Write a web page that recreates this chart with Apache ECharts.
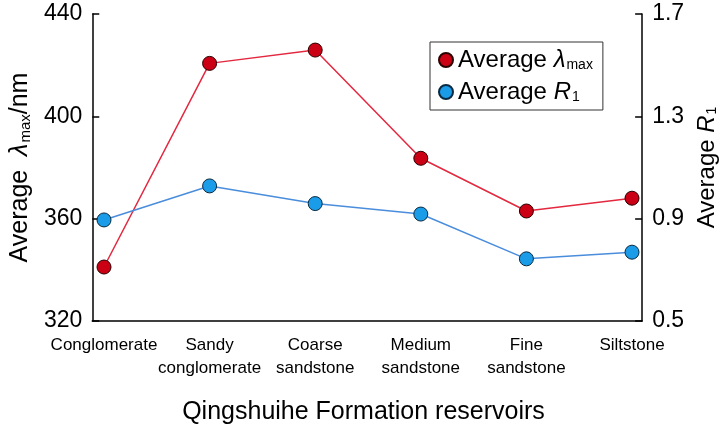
<!DOCTYPE html>
<html>
<head>
<meta charset="utf-8">
<script src="https://cdn.jsdelivr.net/npm/echarts@6/dist/echarts.min.js"></script>
<style>
html,body{margin:0;padding:0;background:#fff;}
#chart{width:727px;height:425px;}
</style>
</head>
<body>
<div id="chart"></div>
<script>
var categories = ['Conglomerate', 'Sandy\nconglomerate', 'Coarse\nsandstone', 'Medium\nsandstone', 'Fine\nsandstone', 'Siltstone'];
var lambdaMax = [341.1, 420.7, 425.9, 383.6, 363.0, 368.0];
var r1 = [0.895, 1.028, 0.959, 0.918, 0.743, 0.769];
var leftTicks = [320, 360, 400, 440];
var rightTicks = [0.5, 0.9, 1.3, 1.7];

var FONT = "'Liberation Sans', Arial, sans-serif";

var richSub = {
  i: {fontStyle: 'italic', fontSize: 24, fontFamily: FONT, color: '#000'},
  s: {fontSize: 14, fontFamily: FONT, color: '#000', verticalAlign: 'bottom', padding: [10, 0, 0, 1]},
  n: {fontSize: 24, fontFamily: FONT, color: '#000'}
};
var richAxis = {
  i: {fontStyle: 'italic', fontSize: 25, fontFamily: FONT, color: '#000'},
  s: {fontSize: 15, fontFamily: FONT, color: '#000', verticalAlign: 'bottom', padding: [10, 0, 0, 1]},
  n: {fontSize: 25, fontFamily: FONT, color: '#000'}
};

var chart = echarts.init(document.getElementById('chart'), null, {renderer: 'canvas'});
chart.setOption({
  animation: false,
  backgroundColor: '#fff',
  title: {
    text: 'Qingshuihe Formation reservoirs',
    left: 'center',
    top: 395,
    textStyle: {fontSize: 25, fontWeight: 'normal', color: '#000', fontFamily: FONT}
  },
  legend: {
    orient: 'vertical',
    left: 430,
    top: 42,
    padding: [6, 10, 6, 8],
    itemGap: 8,
    itemWidth: 14,
    itemHeight: 14,
    borderColor: '#333',
    borderWidth: 1,
    backgroundColor: '#fff',
    icon: 'circle',
    data: ['lambda', 'r1'],
    formatter: function (name) {
      return name === 'lambda' ? '{n|Average }{i|λ}{s|max}' : '{n|Average }{i|R}{s|1}';
    },
    textStyle: {fontSize: 24, fontFamily: FONT, color: '#000', rich: richSub}
  },
  grid: [
    {left: 80, right: 80, top: 14, bottom: 104, containLabel: false},
    {left: 104, right: 95, top: 14, bottom: 104, containLabel: false}
  ],
  xAxis: [
    {
      type: 'value', gridIndex: 0, min: 0, max: 1,
      axisLine: {show: true, lineStyle: {color: '#000', width: 1.5}},
      axisTick: {show: false}, axisLabel: {show: false}, splitLine: {show: false}
    },
    {
      type: 'category', gridIndex: 1, boundaryGap: false, data: categories,
      axisLine: {show: false}, axisTick: {show: false}, splitLine: {show: false},
      axisLabel: {
        interval: 0, margin: 13, color: '#000', fontSize: 17, lineHeight: 23,
        fontFamily: FONT
      }
    }
  ],
  yAxis: [
    {
      type: 'value', gridIndex: 0, position: 'left', min: leftTicks[0], max: leftTicks[leftTicks.length - 1], interval: 40,
      axisLine: {show: true, lineStyle: {color: '#000', width: 1.5}},
      axisTick: {show: true, inside: true, length: 7, lineStyle: {color: '#000', width: 1.5}},
      axisLabel: {color: '#000', fontSize: 23, margin: 10, fontFamily: FONT},
      splitLine: {show: false},
      name: '{n|Average  }{i|λ}{s|max}{n|/nm}',
      nameLocation: 'middle',
      nameRotate: 90,
      nameGap: 50,
      nameTextStyle: {fontSize: 25, fontFamily: FONT, color: '#000', rich: richAxis}
    },
    {
      type: 'value', gridIndex: 0, position: 'right', min: rightTicks[0], max: rightTicks[rightTicks.length - 1], interval: 0.4,
      axisLine: {show: true, lineStyle: {color: '#000', width: 1.5}},
      axisTick: {show: true, inside: true, length: 7, lineStyle: {color: '#000', width: 1.5}},
      axisLabel: {color: '#000', fontSize: 23, margin: 10, fontFamily: FONT, formatter: function (v) { return v.toFixed(1); }},
      splitLine: {show: false},
      name: '{n|Average }{i|R}{s|1}',
      nameLocation: 'middle',
      nameRotate: 90,
      nameGap: 49,
      nameTextStyle: {fontSize: 24, fontFamily: FONT, color: '#000', rich: richSub}
    },
    {
      type: 'value', gridIndex: 1, min: leftTicks[0], max: leftTicks[leftTicks.length - 1], show: false
    },
    {
      type: 'value', gridIndex: 1, min: rightTicks[0], max: rightTicks[rightTicks.length - 1], show: false
    }
  ],
  series: [
    {
      name: 'lambda', type: 'line', xAxisIndex: 1, yAxisIndex: 2, data: lambdaMax,
      symbol: 'circle', symbolSize: 14,
      lineStyle: {color: '#e3283f', width: 1.5},
      itemStyle: {color: '#cc0014', borderColor: '#2a0000', borderWidth: 1}
    },
    {
      name: 'r1', type: 'line', xAxisIndex: 1, yAxisIndex: 3, data: r1,
      symbol: 'circle', symbolSize: 14,
      lineStyle: {color: '#4a8ddc', width: 1.5},
      itemStyle: {color: '#1b9ce8', borderColor: '#0a2a40', borderWidth: 1}
    }
  ]
});
</script>
</body>
</html>
